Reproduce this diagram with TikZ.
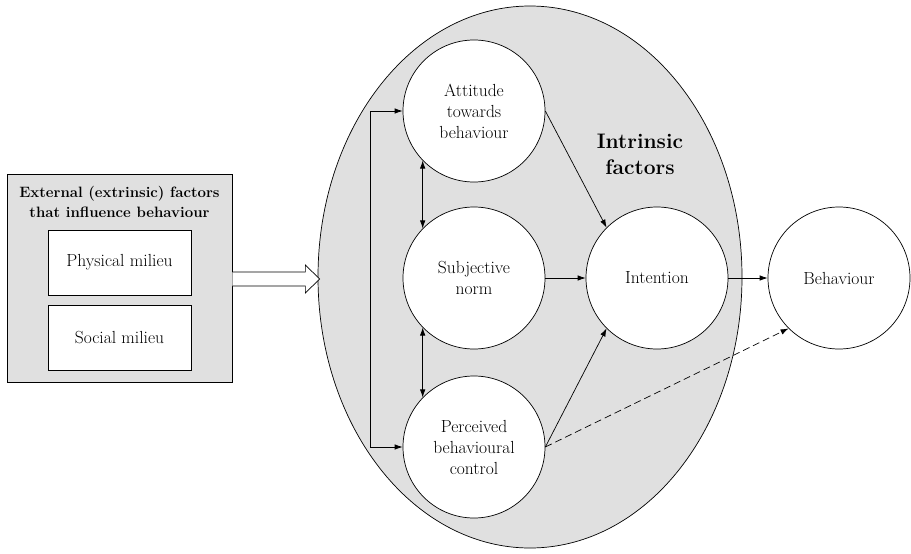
\documentclass[tikz,border=0pt]{standalone}
\usetikzlibrary{arrows.meta,shapes.geometric,calc}
\definecolor{panelgray}{RGB}{224,224,224}
\begin{document}
\begin{tikzpicture}[x=1pt,y=-1pt,
  every node/.style={font=\fontsize{17.5}{21}\selectfont},
  factor/.style={circle,draw,fill=white,line width=0.7pt,minimum size=142pt,inner sep=0pt,align=center,text width=120pt},
  milieu/.style={rectangle,draw,fill=white,line width=0.7pt,minimum width=143pt,minimum height=65pt,inner sep=0pt},
  link/.style={line width=0.7pt,-{Latex[length=8pt,width=5.5pt]}},
  twoway/.style={line width=0.7pt,{Latex[length=8pt,width=5.5pt]}-{Latex[length=8pt,width=5.5pt]}}]
\useasboundingbox (0,0) rectangle (911,554);

% intrinsic factors region
\node[ellipse,draw,fill=panelgray,line width=0.7pt,minimum width=424pt,minimum height=542pt,inner sep=0pt] (intr) at (530,277) {};
\node[font=\fontsize{21}{26}\selectfont\bfseries,align=center] (intrlabel) at (640,154) {Intrinsic\\factors};

% external factors panel
\node[rectangle,draw,fill=panelgray,line width=0.7pt,minimum width=225pt,minimum height=208pt,inner sep=0pt] (ext) at (119.5,278) {};
\node[font=\fontsize{15}{20.5}\selectfont\bfseries,align=center] (extlabel) at (119.5,202) {External (extrinsic) factors\\that influence behaviour};
\node[milieu] (phys) at (119.5,262.5) {Physical milieu};
\node[milieu] (soc) at (119.5,338) {Social milieu};

% factor circles
\node[factor] (att) at (474,111) {Attitude\\towards\\behaviour};
\node[factor] (sn) at (474,278) {Subjective\\norm};
\node[factor] (pbc) at (474,447) {Perceived\\behavioural\\control};
\node[factor] (int) at (657,278) {Intention};
\node[factor] (beh) at (839,278) {Behaviour};

% hollow block arrow from the external panel
\draw[line width=0.7pt,fill=white]
  ($(ext.east)+(0,-6)$) -- ++(73,0) -- ++(0,-7) -- ($(intr.west)+(2,2)$)
  -- ($(ext.east)+(73,15)$) -- ++(0,-7) -- ($(ext.east)+(0,8)$);

% correlations among the antecedents
\draw[twoway] (att.west) -- ++(-32,0) |- (pbc.west);
\draw[twoway] (att.224) -- (sn.136);
\draw[twoway] (sn.224) -- (pbc.136);

% paths to intention and behaviour
\draw[link] (att.east) -- (int.135);
\draw[link] (sn.east) -- (int.west);
\draw[link] (pbc.east) -- (int.225);
\draw[link] (int.east) -- (beh.west);
\draw[link,dash pattern=on 7pt off 4pt] (pbc.east) -- (beh.225);
\end{tikzpicture}
\end{document}
